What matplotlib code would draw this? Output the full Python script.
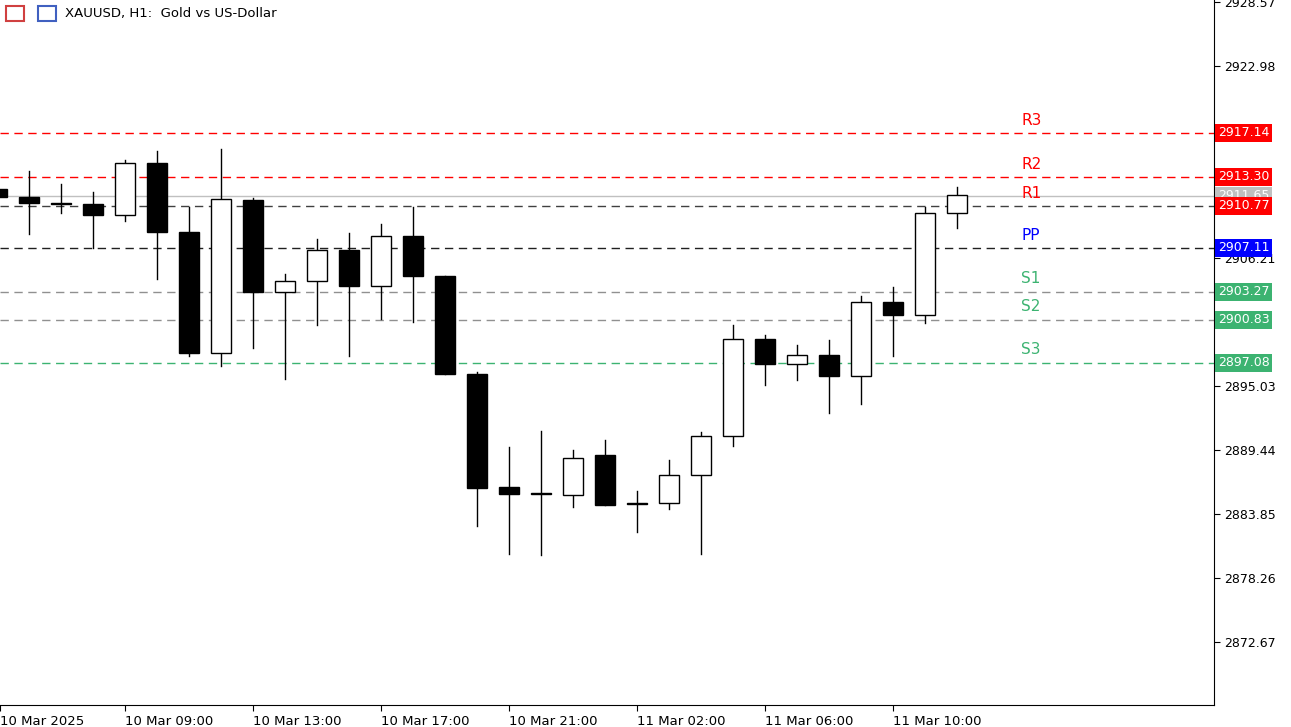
import matplotlib
matplotlib.use("Agg")
import matplotlib.pyplot as plt
from matplotlib.patches import Rectangle

opens  = [2912.23,2911.53,2911.01,2910.92,2909.96,2914.50,2908.48,2897.91,2911.27,2903.24,2904.20,2906.91,2903.76,2908.13,2904.64,2896.08,2886.21,2885.68,2885.51,2889.00,2884.81,2884.81,2887.26,2890.66,2899.13,2896.95,2897.74,2895.90,2902.36,2901.23,2910.14]
closes = [2911.53,2911.01,2910.92,2909.96,2914.50,2908.48,2897.91,2911.36,2903.24,2904.20,2906.91,2903.76,2908.13,2904.64,2896.08,2886.12,2885.60,2885.60,2888.74,2884.64,2884.72,2887.26,2890.66,2899.13,2896.95,2897.74,2895.90,2902.36,2901.23,2910.14,2911.71]
highs  = [2912.50,2913.81,2912.67,2911.97,2914.77,2915.55,2910.66,2915.70,2911.45,2904.81,2907.87,2908.39,2909.18,2910.66,2904.64,2896.25,2889.70,2891.10,2889.44,2890.31,2885.86,2888.57,2891.01,2900.36,2899.48,2898.61,2899.05,2902.89,2903.67,2910.66,2912.41]
lows   = [2911.40,2908.30,2910.14,2907.08,2909.44,2904.37,2897.65,2896.77,2898.35,2895.64,2900.36,2897.65,2900.88,2900.62,2896.08,2882.80,2880.36,2880.27,2884.46,2884.64,2882.28,2884.29,2880.36,2889.79,2895.12,2895.55,2892.67,2893.46,2897.65,2900.53,2908.83]
xlabels = ["10 Mar 2025","10 Mar 09:00","10 Mar 13:00","10 Mar 17:00","10 Mar 21:00","11 Mar 02:00","11 Mar 06:00","11 Mar 10:00"]
xlabel_pos = [0.094,4,8,12,16,20,24,28]
yticks = [2928.57,2922.98,2906.21,2895.03,2889.44,2883.85,2878.26,2872.67]
level_names = ["R3","R2","R1","PP","S1","S2","S3"]
level_vals = [2917.14,2913.30,2910.77,2907.11,2903.27,2900.83,2897.08]
level_line_colors = ["#ff0000","#ff0000","#404040","#202020","#909090","#909090","#3cb371"]
level_text_colors = ["#ff0000","#ff0000","#ff0000","#0000ff","#3cb371","#3cb371","#3cb371"]
level_box_colors = ["#ff0000","#ff0000","#ff0000","#0000ff","#3cb371","#3cb371","#3cb371"]
current_price = 2911.65

fig = plt.figure(figsize=(12.91,7.27), dpi=100)
ax = fig.add_axes([0, 22/727, 1214/1291, 705/727])
ax.set_xlim(0.094, 38.03)
ax.set_ylim(2867.17, 2928.74)
w = 0.62
for i,(o,c,h,l) in enumerate(zip(opens,closes,highs,lows)):
    ax.plot([i,i],[l,h],color="black",lw=1,zorder=2)
    lo, hi = min(o,c), max(o,c)
    face = "white" if c >= o else "black"
    ax.add_patch(Rectangle((i-w/2, lo), w, max(hi-lo,0.08), facecolor=face, edgecolor="black", lw=1, zorder=3))

ax.axhline(current_price, color="#c0c0c0", lw=1, zorder=1)
for n,v,lc,tc in zip(level_names,level_vals,level_line_colors,level_text_colors):
    ax.axhline(v, color=lc, lw=1, ls=(0,(6,4)), zorder=1)
    ax.text(32.0, v+0.45, n, color=tc, fontsize=11, va="bottom", ha="left")

ax.yaxis.tick_right()
ax.set_yticks(yticks)
ax.set_yticklabels([f"{t:.2f}" for t in yticks], fontsize=9)
ax.set_xticks(xlabel_pos)
ax.set_xticklabels(xlabels, fontsize=9.5, ha="left")
ax.tick_params(axis="both", length=4, color="black")
for s in ["top","left"]:
    ax.spines[s].set_visible(False)

tr = ax.get_yaxis_transform()
ax.text(1.003, current_price, f"{current_price:.2f}", transform=tr, fontsize=9, color="white", va="center",
        bbox=dict(boxstyle="square,pad=0.2", fc="#c0c0c0", ec="none"))
for v,bc in zip(level_vals, level_box_colors):
    ax.text(1.003, v, f"{v:.2f}", transform=tr, fontsize=9, color="white", va="center",
            bbox=dict(boxstyle="square,pad=0.2", fc=bc, ec="none"))

for x0, col in [(6, "#d04040"), (38, "#4060c0")]:
    fig.patches.append(Rectangle((x0/1291, 1-21/727), 18/1291, 15/727, transform=fig.transFigure,
                                 fc="white", ec=col, lw=1.5))
fig.text(65/1291, 1-13/727, "XAUUSD, H1:  Gold vs US-Dollar", fontsize=9.5, va="center")
fig.savefig("out.png", dpi=100)
